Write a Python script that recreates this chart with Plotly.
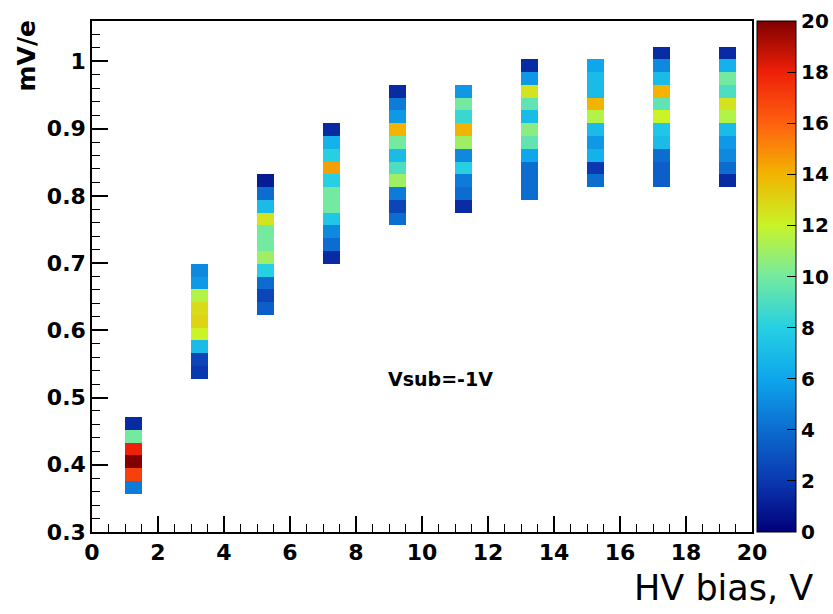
import numpy as np
import plotly.graph_objects as go

# ---- data ----
bias_v = [1, 3, 5, 7, 9, 11, 13, 15, 17, 19]          # column left edge (V)
first_bin = [3, 12, 17, 21, 24, 25, 26, 27, 27, 27]    # index of lowest filled y-bin
col_1 = [4.5, 17, 20, 18, 10, 1.5]
col_3 = [2, 2.5, 7, 12, 13, 12.8, 11.5, 5.5, 5]
col_5 = [3.5, 2.5, 4, 8, 11, 10, 10, 12.5, 7, 4, 1]
col_7 = [1.5, 4, 5, 7.5, 10, 10, 8, 14.5, 8, 6.5, 1.5]
col_9 = [4, 2.5, 4.5, 11, 9, 7, 10, 14, 5.5, 4.5, 1.5]
col_11 = [1.5, 4, 4.5, 8, 5, 11, 14, 8.5, 10, 5.5]
col_13 = [4, 4, 4, 6, 9.5, 10.5, 7, 9.5, 12.5, 5.5, 1.5]
col_15 = [4, 2, 6.5, 5.5, 7, 11.5, 14, 7, 7, 6]
col_17 = [3.5, 3.5, 4, 7, 7.5, 12, 9.5, 14, 7, 5, 1.5]
col_19 = [1.5, 4, 5, 5.5, 7, 11.5, 12.5, 9, 10, 6.5, 1.5]
columns = [col_1, col_3, col_5, col_7, col_9, col_11, col_13, col_15, col_17, col_19]

# histogram binning: x 40 bins on [0,20], y 40 bins on [0.3,1.06]
x_edges = np.linspace(0, 20, 41)
y_edges = np.linspace(0.3, 1.06, 41)

z = np.full((40, 40), np.nan)
for xv, kb, vals in zip(bias_v, first_bin, columns):
    ix = int(round(xv / 0.5))
    for j, v in enumerate(vals):
        z[kb + j, ix] = v
z_list = [[None if np.isnan(v) else float(v) for v in row] for row in z]

colorscale = [
    [0.00, "#00007a"],
    [0.10, "#0a38b0"],
    [0.20, "#0c6cd0"],
    [0.30, "#0ea6ec"],
    [0.40, "#26d0e2"],
    [0.50, "#74eaa0"],
    [0.60, "#c8f428"],
    [0.70, "#f2b400"],
    [0.80, "#ff6010"],
    [0.90, "#ee2008"],
    [1.00, "#800000"],
]

# layout geometry (pixels)
W, H = 833, 614
L, T, B = 92, 21, 82
PW = W - L            # paper width with r=0
PLOT_W = 660
PH = H - T - B

def px_x(p):
    return (p - L) / PW

def px_y(p):
    return 1 - (p - T) / PH

bold = dict(family="DejaVu Sans", size=22, color="black", weight="bold")
cbfont = dict(family="DejaVu Sans", size=20, color="black", weight="bold")

fig = go.Figure(go.Heatmap(
    x=x_edges, y=y_edges, z=z_list,
    zmin=0, zmax=20, colorscale=colorscale, zsmooth=False,
    colorbar=dict(
        x=px_x(757), xanchor="left", xpad=0,
        y=0, yanchor="bottom", len=1, lenmode="fraction", ypad=0,
        thickness=39, thicknessmode="pixels",
        outlinecolor="black", outlinewidth=1,
        tick0=0, dtick=2, ticks="inside", ticklen=9, tickcolor="black", tickwidth=1,
        tickfont=cbfont,
    ),
))

fig.update_layout(
    width=W, height=H,
    margin=dict(l=L, r=0, t=T, b=B, autoexpand=False),
    paper_bgcolor="white", plot_bgcolor="white",
    showlegend=False,
    xaxis=dict(
        domain=[0, PLOT_W / PW],
        range=[0, 20], tick0=0, dtick=2, ticks="inside", ticklen=16, tickwidth=1.5,
        tickcolor="black", showline=True, linecolor="black", linewidth=1.5, mirror=True,
        showgrid=False, zeroline=False, tickfont=bold,
        minor=dict(dtick=0.5, ticks="inside", ticklen=8, tickcolor="black", tickwidth=1.2, showgrid=False),
    ),
    yaxis=dict(
        range=[0.3, 1.06], tick0=0.3, dtick=0.1, ticks="inside", ticklen=16, tickwidth=1.5,
        tickcolor="black", showline=True, linecolor="black", linewidth=1.5, mirror=True,
        showgrid=False, zeroline=False, tickfont=bold,
        minor=dict(dtick=0.02, tick0=0.3, ticks="inside", ticklen=8, tickcolor="black", tickwidth=1.2, showgrid=False),
    ),
    annotations=[
        dict(text="mV/e", xref="paper", yref="paper",
             x=px_x(26), y=px_y(19),
             showarrow=False, textangle=-90, xanchor="center", yanchor="top",
             font=dict(family="DejaVu Sans", size=25, color="black", weight="bold")),
        dict(text="HV bias, V", xref="paper", yref="paper",
             x=px_x(723), y=px_y(588),
             showarrow=False, xanchor="center", yanchor="middle",
             font=dict(family="DejaVu Sans", size=35, color="black")),
        dict(text="Vsub=-1V", xref="x", yref="y", x=10.57, y=0.527,
             showarrow=False, xanchor="center", yanchor="middle",
             font=dict(family="DejaVu Sans", size=19, color="black", weight="bold")),
    ],
)

fig.write_html("out.html")
